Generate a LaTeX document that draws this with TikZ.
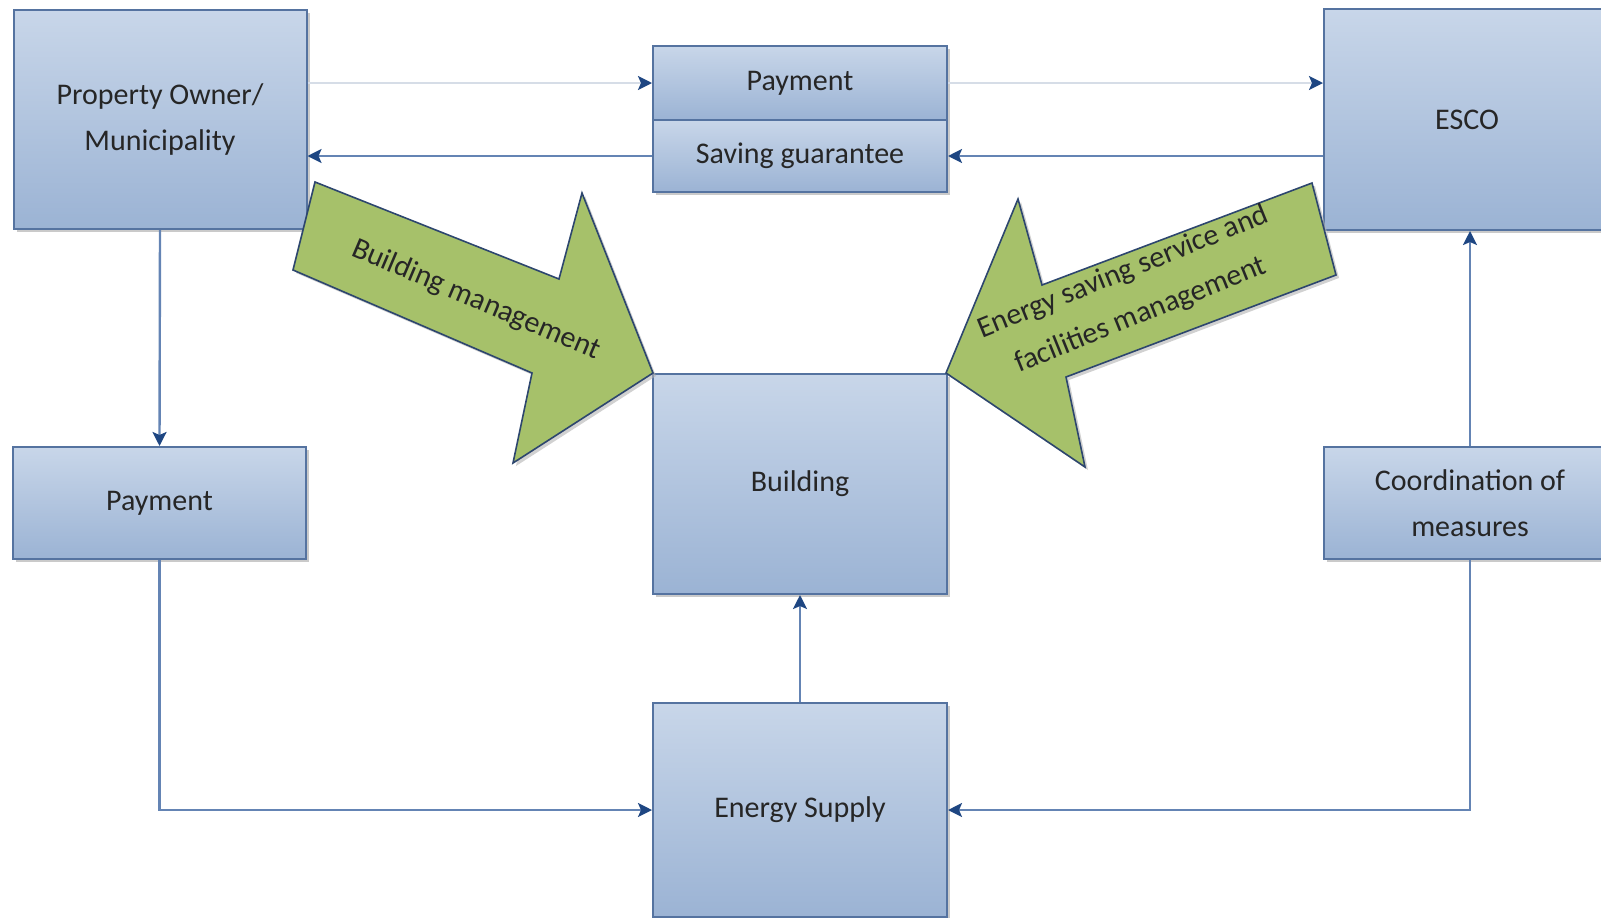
\documentclass[tikz,border=0pt]{standalone}
\usepackage{fontspec}
\setmainfont{Carlito}
\usetikzlibrary{arrows.meta,shadows}
\definecolor{boxtop}{RGB}{200,214,233}
\definecolor{boxbot}{RGB}{155,179,212}
\definecolor{boxline}{RGB}{85,115,160}
\definecolor{linkblue}{RGB}{100,132,180}
\definecolor{linkpale}{RGB}{214,221,231}
\definecolor{tipblue}{RGB}{30,70,130}
\definecolor{leafgreen}{RGB}{166,193,106}
\definecolor{leafline}{RGB}{45,70,110}
\begin{document}
\begin{tikzpicture}[x=0.5pt,y=-0.5pt,
  box/.style={draw=boxline,line width=1pt,top color=boxtop,bottom color=boxbot,
    drop shadow={shadow xshift=1.5pt,shadow yshift=-1.5pt,fill=black!35,opacity=0.6},
    inner sep=0pt,align=center,font=\fontsize{15}{23}\selectfont,text=black!85},
  flow/.style={linkblue,line width=1.2pt,-{Stealth[length=7pt,width=7pt,inset=1.5pt,color=tipblue]}},
  faint/.style={flow,linkpale},
  bigarrow/.style={draw=leafline,line width=0.8pt,fill=leafgreen,
    drop shadow={shadow xshift=1.5pt,shadow yshift=-1.5pt,fill=black!30,opacity=0.6}},
  arrowtext/.style={font=\fontsize{15}{23}\selectfont,text=black!85,align=center}]
\useasboundingbox (0,0) rectangle (1601,917);
\node[box,minimum width=146.5pt,minimum height=109.5pt] (po) at (160,119.5) {Property Owner/\\Municipality};
\node[box,minimum width=147pt,minimum height=37pt] (pay1) at (800,83) {Payment};
\node[box,minimum width=147pt,minimum height=36pt] (sav) at (800,156) {Saving guarantee};
\node[box,minimum width=143pt,minimum height=110.5pt] (esco) at (1467,119.5) {ESCO};
\node[box,minimum width=147pt,minimum height=110pt] (bldg) at (800,484) {Building};
\node[box,minimum width=147pt,minimum height=107pt] (es) at (800,810) {Energy Supply};
\node[box,minimum width=146.5pt,minimum height=56pt] (pay2) at (159.5,503) {Payment};
\node[box,minimum width=146pt,minimum height=56pt] (coord) at (1470,503) {Coordination of\\measures};

\draw[faint] (po.east |- pay1.west) -- (pay1.west);
\draw[faint] (pay1.east) -- (esco.west |- pay1.east);
\draw[flow] (esco.west |- sav.east) -- (sav.east);
\draw[flow] (sav.west) -- (po.east |- sav.west);
\draw[flow] (po.south) -- (pay2.north);
\draw[flow] (pay2.south) |- (es.west);
\draw[flow] (coord.south) |- (es.east);
\draw[flow] (coord.north) -- (coord.north |- esco.south);
\draw[flow] (es.north) -- (bldg.south);

% the two big green arrows
\draw[bigarrow] (315,182) -- (559,279) -- (582,193) -- (653,373) -- (513,463)
        -- (532,373) -- (293,270) -- cycle;
\draw[bigarrow] (1312,183) -- (1336,275) -- (1066,377) -- (1085,467) -- (946,373)
        -- (1018,199) -- (1042,285) -- cycle;
\node[arrowtext,rotate=-23] (bmtext) at (476,300) {Building management};
\node[arrowtext,rotate=22] (estext) at (1132,294) {Energy saving service and\\facilities management};
\end{tikzpicture}
\end{document}
